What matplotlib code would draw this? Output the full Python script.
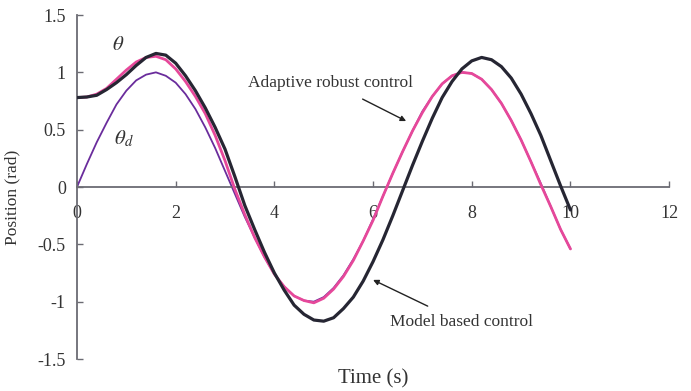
import numpy as np
import matplotlib
matplotlib.use("Agg")
import matplotlib.pyplot as plt

# Time samples (s)
time_s = np.round(np.arange(0, 10.0001, 0.2), 2)

# Desired trajectory theta_d (rad)
theta_desired = [0.00, 0.20, 0.39, 0.56, 0.72, 0.84, 0.93, 0.98, 1.00, 0.97,
                 0.91, 0.81, 0.68, 0.52, 0.34, 0.14, -0.06, -0.26, -0.44, -0.61,
                 -0.76, -0.87, -0.95, -0.99, -1.00, -0.96, -0.88, -0.77, -0.63, -0.47,
                 -0.28, -0.08, 0.12, 0.31, 0.49, 0.66, 0.79, 0.90, 0.97, 1.00,
                 0.99, 0.94, 0.85, 0.73, 0.58, 0.41, 0.22, 0.03, -0.17, -0.37,
                 -0.54]

# Adaptive robust control response (rad)
theta_adaptive = [0.78, 0.785, 0.81, 0.86, 0.94, 1.02, 1.09, 1.13, 1.14, 1.11,
                  1.03, 0.92, 0.79, 0.64, 0.45, 0.23, -0.02, -0.24, -0.44, -0.61,
                  -0.76, -0.87, -0.95, -0.99, -1.01, -0.97, -0.89, -0.78, -0.64, -0.47,
                  -0.29, -0.08, 0.12, 0.31, 0.49, 0.65, 0.79, 0.90, 0.97, 1.00,
                  0.99, 0.94, 0.85, 0.73, 0.58, 0.41, 0.22, 0.02, -0.17, -0.37,
                  -0.54]

# Model based control response (rad)
theta_model = [0.78, 0.785, 0.80, 0.85, 0.91, 0.98, 1.06, 1.13, 1.165, 1.15,
               1.08, 0.97, 0.84, 0.69, 0.52, 0.33, 0.09, -0.16, -0.37, -0.57,
               -0.75, -0.90, -1.03, -1.11, -1.16, -1.17, -1.14, -1.06, -0.96, -0.82,
               -0.65, -0.46, -0.25, -0.03, 0.19, 0.40, 0.60, 0.78, 0.92, 1.03,
               1.10, 1.13, 1.11, 1.05, 0.95, 0.81, 0.64, 0.45, 0.23, 0.01,
               -0.20]

x_ticks = [0, 2, 4, 6, 8, 10, 12]
y_ticks = [-1.5, -1, -0.5, 0, 0.5, 1, 1.5]
y_tick_labels = ["-1.5", "-1", "-0.5", "0", "0.5", "1", "1.5"]

plt.rcParams["font.family"] = ["Liberation Serif", "DejaVu Serif"]
plt.rcParams["mathtext.fontset"] = "stix"
plt.rcParams["lines.solid_joinstyle"] = "round"
plt.rcParams["lines.solid_capstyle"] = "round"

axis_gray = "#6b6b73"
text_gray = "#333333"

fig = plt.figure(figsize=(6.91, 3.91), dpi=100)
ax = fig.add_axes([0.1114, 0.0818, 0.857, 0.8798])

ax.plot(time_s, theta_desired, color="#6a2c9c", lw=1.3, zorder=2)
ax.plot(time_s, theta_adaptive, color="#e6489a", lw=2.0, zorder=3)
ax.plot(time_s, theta_model, color="#262633", lw=2.3, zorder=4)

ax.set_xlim(0, 12)
ax.set_ylim(-1.5, 1.5)
ax.set_xticks(x_ticks)
ax.set_yticks(y_ticks)
ax.set_yticklabels(y_tick_labels)

for side in ("top", "right"):
    ax.spines[side].set_visible(False)
ax.spines["bottom"].set_position(("data", 0))
for side in ("left", "bottom"):
    ax.spines[side].set_color(axis_gray)
    ax.spines[side].set_linewidth(1.3)

ax.tick_params(axis="both", direction="in", length=4, width=1.0,
               color=axis_gray, labelsize=13, labelcolor=text_gray)
ax.tick_params(axis="x", pad=13)
ax.tick_params(axis="y", pad=8)

ax.set_xlabel("Time (s)", fontsize=15, color=text_gray)
ax.xaxis.label.set_va("center")
ax.xaxis.set_label_coords(0.5, -0.057)
ax.set_ylabel("Position (rad)", fontsize=12.5, color=text_gray)
ax.yaxis.set_label_coords(-0.095, 0.47)

ax.text(0.83, 1.23, r"$\theta$", fontsize=15, color=text_gray,
        ha="center", va="center")
ax.text(0.95, 0.42, r"$\theta_d$", fontsize=15, color=text_gray,
        ha="center", va="center")

ax.annotate("Adaptive robust control", xy=(6.67, 0.575), xytext=(5.13, 0.91),
            fontsize=12.5, color=text_gray, ha="center", va="center",
            arrowprops=dict(arrowstyle="-|>", color="#222222", lw=1.0,
                            shrinkA=9, shrinkB=0, mutation_scale=8))
ax.annotate("Model based control", xy=(6.0, -0.81), xytext=(7.79, -1.18),
            fontsize=12.5, color=text_gray, ha="center", va="center",
            arrowprops=dict(arrowstyle="-|>", color="#222222", lw=1.0,
                            shrinkA=9, shrinkB=0, mutation_scale=8))

fig.savefig("out.png", dpi=100)
